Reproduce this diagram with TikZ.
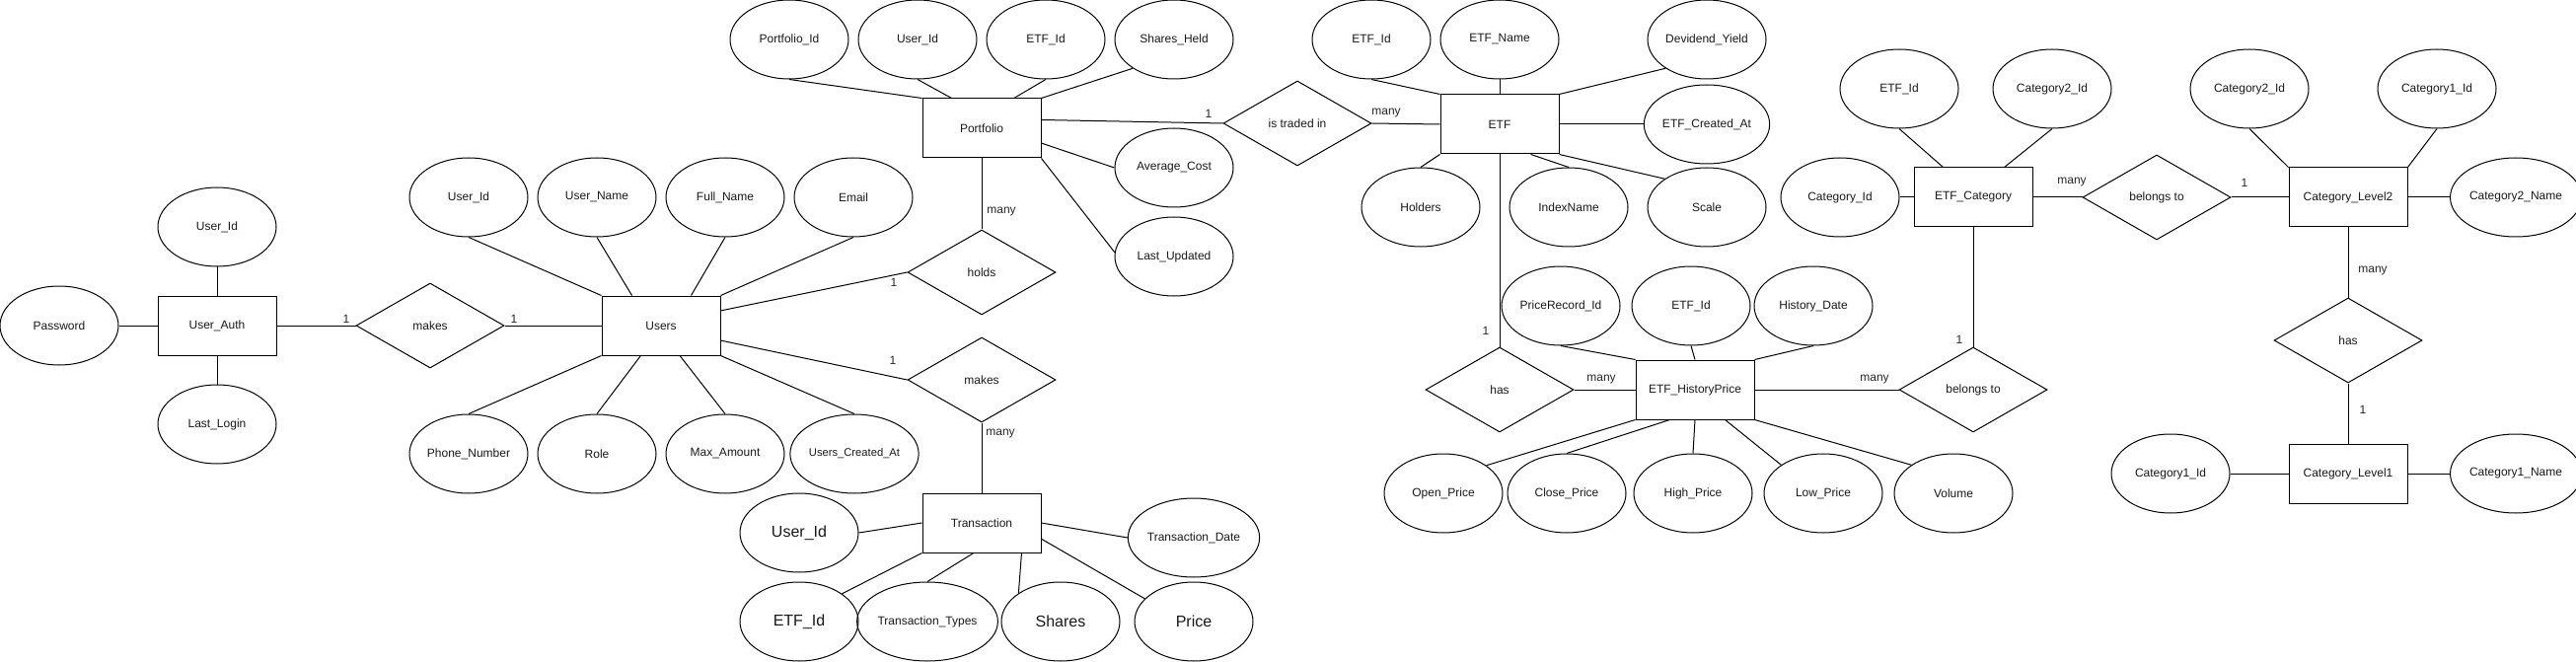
\documentclass[tikz,border=0pt]{standalone}
\usepackage{fontspec}
\setmainfont{Liberation Sans}
\usetikzlibrary{shapes.geometric}
\tikzset{
  every node/.style={font=\fontsize{12}{14}\selectfont, text=black!90},
  attr/.style={ellipse, draw, line width=1pt, minimum width=120pt, minimum height=80pt, inner sep=0pt},
  bigattr/.style={attr, font=\fontsize{16}{18}\selectfont},
  ent/.style={rectangle, draw, line width=1pt, minimum width=120pt, minimum height=60pt, inner sep=0pt},
  rel/.style={diamond, draw, line width=1pt, minimum width=150pt, minimum height=86pt, inner sep=0pt},
  lbl/.style={inner sep=0pt, text=black!85},
  conn/.style={draw, line width=1pt}
}
\begin{document}
\begin{tikzpicture}[x=1pt,y=-1pt]
\useasboundingbox (0,0) rectangle (2611,671);
% ---------- User_Auth ----------
\node[ent] (ua) at (220,330) {User\_Auth};
\node[attr] (uaid) at (220,230) {User\_Id};
\node[attr] (uapw) at (60,330) {Password};
\node[attr] (uall) at (220,430) {Last\_Login};
\node[rel] (rmk1) at (436,330) {makes};
% ---------- Users ----------
\node[ent] (us) at (670,330) {Users};
\node[attr] (usid) at (475,200) {User\_Id};
\node[attr] (usname) at (605,200) {User\_Name};
\node[attr] (usfull) at (735,200) {Full\_Name};
\node[attr] (usmail) at (865,200) {Email};
\node[attr] (usphone) at (475,460) {Phone\_Number};
\node[attr] (usrole) at (605,460) {Role};
\node[attr] (usmax) at (735,460) {Max\_Amount};
\node[attr, font=\fontsize{11.2}{13}\selectfont] (uscr) at (866,460) {Users\_Created\_At};
\node[rel] (rholds) at (995,276) {holds};
\node[rel] (rmk2) at (995,385) {makes};
% ---------- Portfolio ----------
\node[ent] (pf) at (995,130) {Portfolio};
\node[attr] (pfid) at (800,40) {Portfolio\_Id};
\node[attr] (pfuid) at (930,40) {User\_Id};
\node[attr] (pfetf) at (1060,40) {ETF\_Id};
\node[attr] (pfsh) at (1190,40) {Shares\_Held};
\node[attr] (pfavg) at (1190,170) {Average\_Cost};
\node[attr] (pflu) at (1190,260) {Last\_Updated};
\node[rel] (rtr) at (1315,125) {is traded in};
% ---------- Transaction ----------
\node[ent] (tr) at (995,530) {Transaction};
\node[bigattr] (truid) at (810,540) {User\_Id};
\node[attr] (trdate) at (1210,545) {Transaction\_Date};
\node[bigattr] (tretf) at (810,630) {ETF\_Id};
\node[attr] (trtype) at (940,630) {Transaction\_Types};
\node[bigattr] (trsh) at (1075,630) {Shares};
\node[bigattr] (trpr) at (1210,630) {Price};
% ---------- ETF ----------
\node[ent] (etf) at (1520,126) {ETF};
\node[attr] (etfid) at (1390,40) {ETF\_Id};
\node[attr] (etfname) at (1520,40) {ETF\_Name};
\node[attr] (etfdiv) at (1730,40) {Devidend\_Yield};
\node[attr] (etfcr) at (1730,126) {ETF\_Created\_At};
\node[attr] (etfhold) at (1440,210) {Holders};
\node[attr] (etfidx) at (1590,210) {IndexName};
\node[attr] (etfsc) at (1730,210) {Scale};
\node[rel] (rhas1) at (1520,395) {has};
% ---------- ETF_HistoryPrice ----------
\node[ent] (hp) at (1718,395) {ETF\_HistoryPrice};
\node[attr] (hppid) at (1582,310) {PriceRecord\_Id};
\node[attr] (hpeid) at (1714,310) {ETF\_Id};
\node[attr] (hpdate) at (1838,310) {History\_Date};
\node[attr] (hpopen) at (1463,500) {Open\_Price};
\node[attr] (hpclose) at (1588,500) {Close\_Price};
\node[attr] (hphigh) at (1716,500) {High\_Price};
\node[attr] (hplow) at (1848,500) {Low\_Price};
\node[attr] (hpvol) at (1980,500) {Volume};
\node[rel] (rbel1) at (2000,395) {belongs to};
% ---------- ETF_Category ----------
\node[ent] (ec) at (2000,200) {ETF\_Category};
\node[attr] (ececid) at (1925,90) {ETF\_Id};
\node[attr] (ecc2) at (2080,90) {Category2\_Id};
\node[attr] (eccid) at (1865,200) {Category\_Id};
\node[rel] (rbel2) at (2186,200) {belongs to};
% ---------- Category_Level2 ----------
\node[ent] (cl2) at (2380,200) {Category\_Level2};
\node[attr] (cl2c2) at (2280,90) {Category2\_Id};
\node[attr] (cl2c1) at (2470,90) {Category1\_Id};
\node[attr] (cl2name) at (2550,200) {Category2\_Name};
\node[rel] (rhas2) at (2380,345) {has};
% ---------- Category_Level1 ----------
\node[ent] (cl1) at (2380,480) {Category\_Level1};
\node[attr] (cl1id) at (2200,480) {Category1\_Id};
\node[attr] (cl1name) at (2550,480) {Category1\_Name};

% ---------- connectors ----------
\path[conn] (uaid.south) -- (ua.north);
\path[conn] (uapw.east) -- (ua.west);
\path[conn] (uall.north) -- (ua.south);
\path[conn] (ua.east) -- (rmk1.west);
\path[conn] (rmk1.east) -- (us.west);

\path[conn] (usid.south) -- (us.north west);
\path[conn] (usname.south) -- (us.134);
\path[conn] (usfull.south) -- (us.45);
\path[conn] (usmail.south) -- (us.north east);
\path[conn] (usphone.north) -- (us.south west);
\path[conn] (usrole.north) -- (us.236);
\path[conn] (usmax.north) -- (us.302);
\path[conn] (uscr.north) -- (us.south east);
\path[conn] (us.14) -- (rholds.west);
\path[conn] (us.346) -- (rmk2.west);

\path[conn] (pfid.south) -- (pf.north west);
\path[conn] (pfuid.south) -- (pf.135);
\path[conn] (pfetf.south) -- (pf.43);
\path[conn] (pfsh.215) -- (pf.north east);
\path[conn] (pf.8) -- (rtr.west);
\path[conn] (pf.346) -- (pfavg.west);
\path[conn] (pf.south east) -- (pflu.176);
\path[conn] (pf.south) -- (rholds.north);
\path[conn] (rtr.east) -- (etf.west);

\path[conn] (rmk2.south) -- (tr.north);
\path[conn] (truid.east) -- (tr.west);
\path[conn] (tr.east) -- (trdate.west);
\path[conn] (tretf.33) -- (tr.south west);
\path[conn] (trtype.north) -- (tr.255);
\path[conn] (trsh.146) -- (tr.323);
\path[conn] (trpr.155) -- (tr.345);

\path[conn] (etfid.south) -- (etf.north west);
\path[conn] (etfname.south) -- (etf.north);
\path[conn] (etfdiv.215) -- (etf.north east);
\path[conn] (etf.east) -- (etfcr.west);
\path[conn] (etfhold.north) -- (etf.south west);
\path[conn] (etfidx.north) -- (etf.316);
\path[conn] (etfsc.146) -- (etf.south east);
\path[conn] (etf.south) -- (rhas1.north);

\path[conn] (rhas1.east) -- (hp.west);
\path[conn] (hppid.south) -- (hp.north west);
\path[conn] (hpeid.south) -- (hp.north);
\path[conn] (hpdate.south) -- (hp.north east);
\path[conn] (hpopen.33) -- (hp.south west);
\path[conn] (hpclose.north) -- (hp.230);
\path[conn] (hphigh.north) -- (hp.south);
\path[conn] (hplow.146) -- (hp.315);
\path[conn] (hpvol.146) -- (hp.south east);
\path[conn] (hp.east) -- (rbel1.west);
\path[conn] (rbel1.north) -- (ec.south);

\path[conn] (ececid.south) -- (ec.135);
\path[conn] (ecc2.south) -- (ec.44);
\path[conn] (eccid.east) -- (ec.west);
\path[conn] (ec.east) -- (rbel2.west);
\path[conn] (rbel2.east) -- (cl2.west);

\path[conn] (cl2c2.south) -- (cl2.north west);
\path[conn] (cl2c1.south) -- (cl2.north east);
\path[conn] (cl2.east) -- (cl2name.west);
\path[conn] (cl2.south) -- (rhas2.north);
\path[conn] (rhas2.south) -- (cl1.north);
\path[conn] (cl1id.east) -- (cl1.west);
\path[conn] (cl1.east) -- (cl1name.west);

% ---------- cardinality labels ----------
\node[lbl] (l1) at (351,323) {1};
\node[lbl] (l2) at (521,323) {1};
\node[lbl] (l3) at (906,286) {1};
\node[lbl] (l4) at (905,365) {1};
\node[lbl] (l5) at (1015,215) {many};
\node[lbl] (l6) at (1014,440) {many};
\node[lbl] (l7) at (1225,115) {1};
\node[lbl] (l8) at (1405,115) {many};
\node[lbl] (l9) at (1506,335) {1};
\node[lbl] (l10) at (1623,385) {many};
\node[lbl] (l11) at (1900,385) {many};
\node[lbl] (l12) at (1986,344) {1};
\node[lbl] (l13) at (2100,185) {many};
\node[lbl] (l14) at (2275,185) {1};
\node[lbl] (l15) at (2405,275) {many};
\node[lbl] (l16) at (2395,415) {1};
\end{tikzpicture}
\end{document}
